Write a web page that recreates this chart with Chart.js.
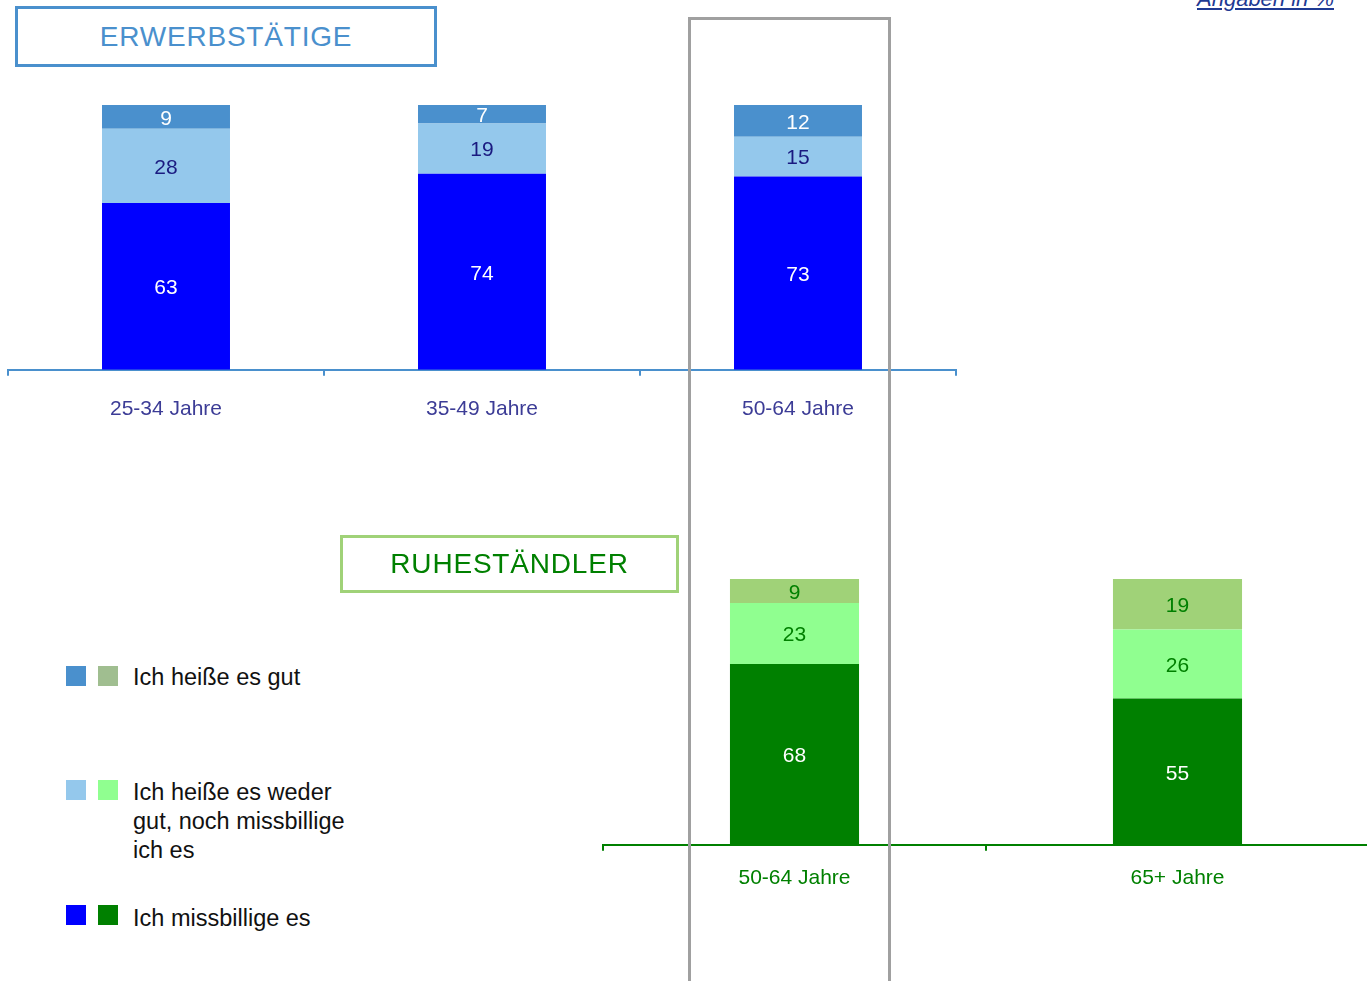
<!DOCTYPE html>
<html>
<head>
<meta charset="utf-8">
<script src="https://cdn.jsdelivr.net/npm/chart.js@4"></script>
<style>
  body { margin:0; width:1367px; height:981px; overflow:hidden; background:#fff; font-family:"Liberation Sans", Arial, sans-serif; position:relative; }
  .abs { position:absolute; }
  .titlebox { position:absolute; box-sizing:border-box; border:3px solid; text-align:center; font-size:28px; letter-spacing:0.8px; }
  .sq { position:absolute; width:20px; height:20px; }
  .lg { position:absolute; left:133px; font-size:23.5px; line-height:29px; color:#111; }
</style>
</head>
<body>
<canvas id="chartTop" class="abs" style="left:0;top:95px;"></canvas>
<canvas id="chartBottom" class="abs" style="left:593px;top:569px;"></canvas>

<div class="titlebox" style="left:15px;top:6px;width:422px;height:61px;line-height:55px;border-color:#4a90cd;color:#4a90cd;">ERWERBSTÄTIGE</div>
<div class="titlebox" style="left:340px;top:535px;width:339px;height:58px;line-height:52px;border-color:#a0d278;color:#008000;">RUHESTÄNDLER</div>

<div class="abs" style="left:1197px;top:-14px;font-size:22px;font-style:italic;text-decoration:underline;color:#1f3a93;">Angaben in %</div>

<!-- legend -->
<div class="sq" style="left:66px;top:666px;background:#4a90cd"></div>
<div class="sq" style="left:98px;top:666px;background:#a0be90"></div>
<div class="lg" style="top:663px;">Ich heiße es gut</div>
<div class="sq" style="left:66px;top:780px;background:#94c8ec"></div>
<div class="sq" style="left:98px;top:780px;background:#90ff90"></div>
<div class="lg" style="top:778px;">Ich heiße es weder<br>gut, noch missbillige<br>ich es</div>
<div class="sq" style="left:66px;top:905px;background:#0000ff"></div>
<div class="sq" style="left:98px;top:905px;background:#008000"></div>
<div class="lg" style="top:904px;">Ich missbillige es</div>

<div class="abs" style="left:688px;top:17px;width:197px;height:1000px;border:3px solid #a0a0a0;border-bottom:none;pointer-events:none;"></div>

<script>
// Erwerbstätige
var katErwerb = ["25-34 Jahre", "35-49 Jahre", "50-64 Jahre"];
var erwMissbillige = [63, 74, 73];
var erwWeder = [28, 19, 15];
var erwGut = [9, 7, 12];

// Ruheständler
var katRuhe = ["50-64 Jahre", "65+ Jahre"];
var ruheMissbillige = [68, 55];
var ruheWeder = [23, 26];
var ruheGut = [9, 19];

var labelPlugin = {
  id: 'segLabels',
  afterDatasetsDraw: function(chart) {
    var ctx = chart.ctx;
    ctx.save();
    ctx.font = '21px "Liberation Sans", Arial, sans-serif';
    ctx.textAlign = 'center';
    ctx.textBaseline = 'middle';
    chart.data.datasets.forEach(function(ds, i) {
      var meta = chart.getDatasetMeta(i);
      meta.data.forEach(function(bar, j) {
        ctx.fillStyle = ds.labelColor;
        ctx.fillText(ds.data[j], bar.x, (bar.y + bar.base) / 2 + 2);
      });
    });
    ctx.restore();
  }
};

function makeChart(id, w, h, labels, sets, axisColor, tickColor, barPct, pad, tickPad) {
  var cv = document.getElementById(id);
  cv.width = w; cv.height = h;
  cv.style.width = w + 'px'; cv.style.height = h + 'px';
  return new Chart(cv, {
    type: 'bar',
    data: { labels: labels, datasets: sets },
    plugins: [labelPlugin],
    options: {
      responsive: false,
      animation: false,
      layout: { padding: pad },
      plugins: { legend: { display: false }, tooltip: { enabled: false } },
      datasets: { bar: { categoryPercentage: 1, barPercentage: barPct } },
      scales: {
        x: {
          stacked: true,
          grid: { offset: true, drawOnChartArea: false, drawTicks: true, tickLength: 6, color: axisColor, lineWidth: 2 },
          border: { color: axisColor, width: 2 },
          ticks: { color: tickColor, padding: tickPad, font: { size: 21, family: '"Liberation Sans", Arial, sans-serif' } }
        },
        y: { stacked: true, display: false, min: 0, max: 100 }
      }
    }
  });
}

makeChart('chartTop', 966, 348, katErwerb, [
  { data: erwMissbillige, backgroundColor: '#0000ff', labelColor: '#ffffff' },
  { data: erwWeder, backgroundColor: '#94c8ec', labelColor: '#1a1a80' },
  { data: erwGut, backgroundColor: '#4a90cd', labelColor: '#ffffff' }
], '#4a90cd', '#3c3c96', 0.405, { left: 8, right: 10, top: 10, bottom: 0 }, 21);

makeChart('chartBottom', 776, 337, katRuhe, [
  { data: ruheMissbillige, backgroundColor: '#008000', labelColor: '#ffffff' },
  { data: ruheWeder, backgroundColor: '#90ff90', labelColor: '#008000' },
  { data: ruheGut, backgroundColor: '#a0d278', labelColor: '#008000' }
], '#008000', '#008000', 0.337, { left: 10, right: 0, top: 10, bottom: 0 }, 15);
</script>
</body>
</html>
